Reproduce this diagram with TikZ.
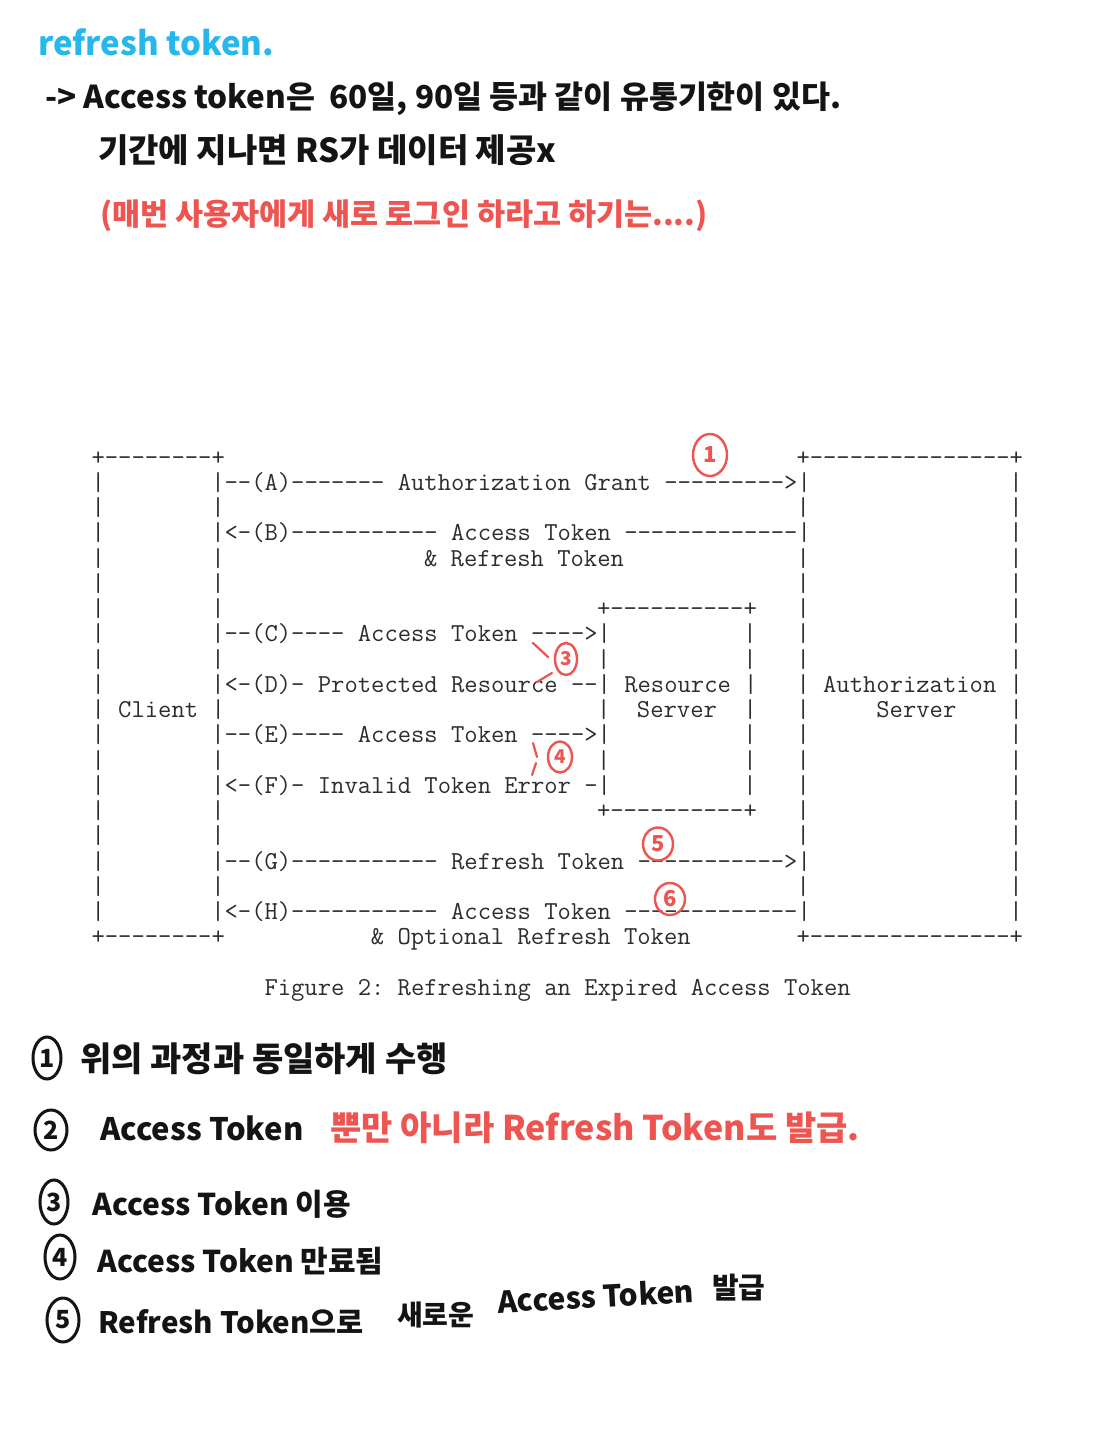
\documentclass[tikz,border=0pt]{standalone}
\usepackage{fontspec}
\newfontfamily\kr{Noto Sans CJK KR}
\usetikzlibrary{shapes.geometric}
\definecolor{hcyan}{RGB}{38,184,236}
\definecolor{hred}{RGB}{238,84,80}
\definecolor{ink}{RGB}{20,20,20}
\definecolor{mono}{RGB}{45,45,45}
\tikzset{
  asc/.style={anchor=base west, inner sep=0pt, text=mono, font=\fontsize{25.87}{25.87}\selectfont\ttfamily},
  hand/.style={anchor=base west, inner sep=0pt, text=ink, font=\kr\bfseries\fontsize{#1}{#1}\selectfont},
  hand/.default=31,
  redmark/.style={ellipse, draw=hred, line width=2.4pt, inner sep=0pt, text=hred, font=\kr\bfseries\fontsize{22}{22}\selectfont},
  blackmark/.style={ellipse, draw=ink, line width=3pt, inner sep=0pt, text=ink, font=\kr\bfseries\fontsize{25}{25}\selectfont},
  tick/.style={draw=hred, line width=2.2pt, line cap=round},
}
\begin{document}
\begin{tikzpicture}[x=1pt,y=-1pt]
\useasboundingbox[fill=white] (0,0) rectangle (1116,1440);

% handwritten notes (top)
\node[hand=33, text=hcyan] (title) at (38,55) {refresh token.};
\node[hand=31.5] (l2) at (45,108) {-> Access token은~~60일, 90일 등과 같이 유통기한이 있다.};
\node[hand=33] (l3) at (98,162) {기간에 지나면 RS가 데이터 제공x};
\node[hand=30.5, text=hred] (l4) at (100,225) {(매번 사용자에게 새로 로그인 하라고 하기는....)};

% ASCII diagram
\foreach \r/\c/\t in {
0/0/{+--------+}, 0/53/{+---------------+},
1/0/{|}, 1/9/{|--(A)-------~Authorization~Grant~--------->|}, 1/69/{|},
2/0/{|}, 2/9/{|}, 2/53/{|}, 2/69/{|},
3/0/{|}, 3/9/{|<-(B)-----------~Access~Token~-------------|}, 3/69/{|},
4/0/{|}, 4/9/{|}, 4/25/{\&~Refresh~Token}, 4/53/{|}, 4/69/{|},
5/0/{|}, 5/9/{|}, 5/53/{|}, 5/69/{|},
6/0/{|}, 6/9/{|}, 6/38/{+----------+}, 6/53/{|}, 6/69/{|},
7/0/{|}, 7/9/{|--(C)----~Access~Token~---->|}, 7/49/{|}, 7/53/{|}, 7/69/{|},
8/0/{|}, 8/9/{|}, 8/38/{|}, 8/49/{|}, 8/53/{|}, 8/69/{|},
9/0/{|}, 9/9/{|<-(D)-~Protected~Resource~--|~Resource~|}, 9/53/{|~Authorization~|},
10/0/{|~Client~|}, 10/38/{|~~Server~~|}, 10/53/{|~~~~~Server~~~~|},
11/0/{|}, 11/9/{|--(E)----~Access~Token~---->|}, 11/49/{|}, 11/53/{|}, 11/69/{|},
12/0/{|}, 12/9/{|}, 12/38/{|}, 12/49/{|}, 12/53/{|}, 12/69/{|},
13/0/{|}, 13/9/{|<-(F)-~Invalid~Token~Error~-|}, 13/49/{|}, 13/53/{|}, 13/69/{|},
14/0/{|}, 14/9/{|}, 14/38/{+----------+}, 14/53/{|}, 14/69/{|},
15/0/{|}, 15/9/{|}, 15/53/{|}, 15/69/{|},
16/0/{|}, 16/9/{|--(G)-----------~Refresh~Token~----------->|}, 16/69/{|},
17/0/{|}, 17/9/{|}, 17/53/{|}, 17/69/{|},
18/0/{|}, 18/9/{|<-(H)-----------~Access~Token~-------------|}, 18/69/{|},
19/0/{+--------+}, 19/21/{\&~Optional~Refresh~Token}, 19/53/{+---------------+},
21/13/{Figure~2:~Refreshing~an~Expired~Access~Token}
}{
  \node[asc] (a\r-\c) at ({91.4+13.3*\c},{465+25.26*\r}) {\t};
}

% red annotations on the diagram
\node[redmark, minimum width=34pt, minimum height=42pt] (m1) at (710,455) {1};
\node[redmark, minimum width=22pt, minimum height=32pt, font=\kr\bfseries\fontsize{19}{19}\selectfont] (m3) at (566,659) {3};
\draw[tick] (533,643) -- (548,657);
\draw[tick] (537,682) -- (552,673);
\node[redmark, minimum width=24pt, minimum height=31pt, font=\kr\bfseries\fontsize{19}{19}\selectfont] (m4) at (560,757) {4};
\draw[tick] (533,743) -- (537,757);
\draw[tick] (536,763) -- (532,775);
\node[redmark, minimum width=30pt, minimum height=33pt] (m5) at (658,844) {5};
\node[redmark, minimum width=30pt, minimum height=32pt] (m6) at (670,899) {6};

% handwritten notes (bottom)
\node[blackmark, minimum width=28pt, minimum height=42pt] (b1) at (47,1058) {1};
\node[hand=34] (t1) at (80,1071) {위의 과정과 동일하게 수행};
\node[blackmark, minimum width=32pt, minimum height=40pt] (b2) at (51,1130) {2};
\node[hand=31] (t2) at (100,1140) {Access Token};
\node[hand=34, text=hred] (t2r) at (330,1140) {뿐만 아니라 Refresh Token도 발급.};
\node[blackmark, minimum width=28pt, minimum height=44pt] (b3) at (54,1202) {3};
\node[hand=30] (t3) at (92,1215) {Access Token 이용};
\node[blackmark, minimum width=30pt, minimum height=44pt] (b4) at (60,1257) {4};
\node[hand=30] (t4) at (97,1272) {Access Token 만료됨};
\node[blackmark, minimum width=32pt, minimum height=44pt] (b5) at (63,1320) {5};
\node[hand=29.5] (t5a) at (98,1333) {Refresh Token으로};
\node[hand=28] (t5b) at (397,1325) {새로운};
\node[hand=30, rotate=3] (t5c) at (498,1313) {Access Token};
\node[hand=29] (t5d) at (712,1298) {발급};
\end{tikzpicture}
\end{document}
